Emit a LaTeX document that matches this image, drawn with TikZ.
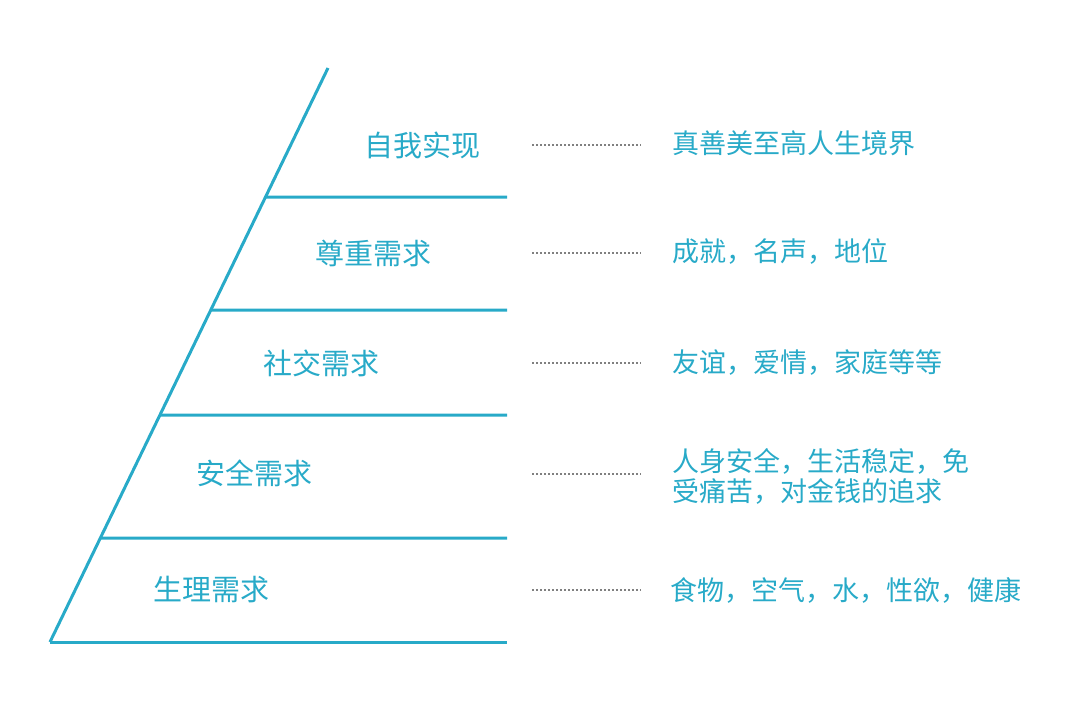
\documentclass[tikz,border=0pt]{standalone}
\usepackage{fontspec}
\setmainfont{Noto Sans CJK SC}
\usetikzlibrary{calc}
\definecolor{pyrblue}{RGB}{40,170,200}
\tikzset{
  level/.style={line width=3pt, color=pyrblue},
  need/.style={text=pyrblue, inner sep=0pt, font=\fontsize{29}{34}\selectfont},
  desc/.style={text=pyrblue, inner sep=0pt, anchor=west, align=left, font=\fontsize{27}{30}\selectfont},
  dots/.style={line width=2pt, color=black!50, dash pattern=on 2pt off 2pt}
}

\begin{document}
\begin{tikzpicture}[x=1pt, y=-1pt]
		%%%%% START %%%%%
		\useasboundingbox (0, 0) rectangle (1080, 701);
		
		\coordinate (base) at (50, 642);
		\coordinate (apex) at (328, 68);
		\draw[level] (base) -- (apex);
		
		% levels
		\foreach \y [count=\i] in {197, 310, 415, 538, 642} {
			\coordinate (lv\i) at ($(base)!{(642-\y)/574}!(apex)$);
			\draw[level] (lv\i) -- (507, \y);
		}
		
		\node[need] (n1) at (422, 145) {自我实现};
		\node[need] (n2) at (373, 253) {尊重需求};
		\node[need] (n3) at (321, 363) {社交需求};
		\node[need] (n4) at (254, 473) {安全需求};
		\node[need] (n5) at (211, 590) {生理需求};
		
		\node[desc] (d1) at (672, 143) {真善美至高人生境界};
		\node[desc] (d2) at (672, 252) {成就，名声，地位};
		\node[desc] (d3) at (672, 362) {友谊，爱情，家庭等等};
		\node[desc] (d4) at (672, 476) {人身安全，生活稳定，免\\受痛苦，对金钱的追求};
		\node[desc] (d5) at (670, 590) {食物，空气，水，性欲，健康};
		
		% dotted leaders
		\foreach \i/\y in {1/145, 2/253, 3/363, 4/474, 5/590} {
			\coordinate (ds\i) at (532, \y);
			\coordinate (de\i) at (641, \y);
			\draw[dots] (ds\i) -- (de\i);
		}
		%%%%% END %%%%%
\end{tikzpicture}
\end{document}
